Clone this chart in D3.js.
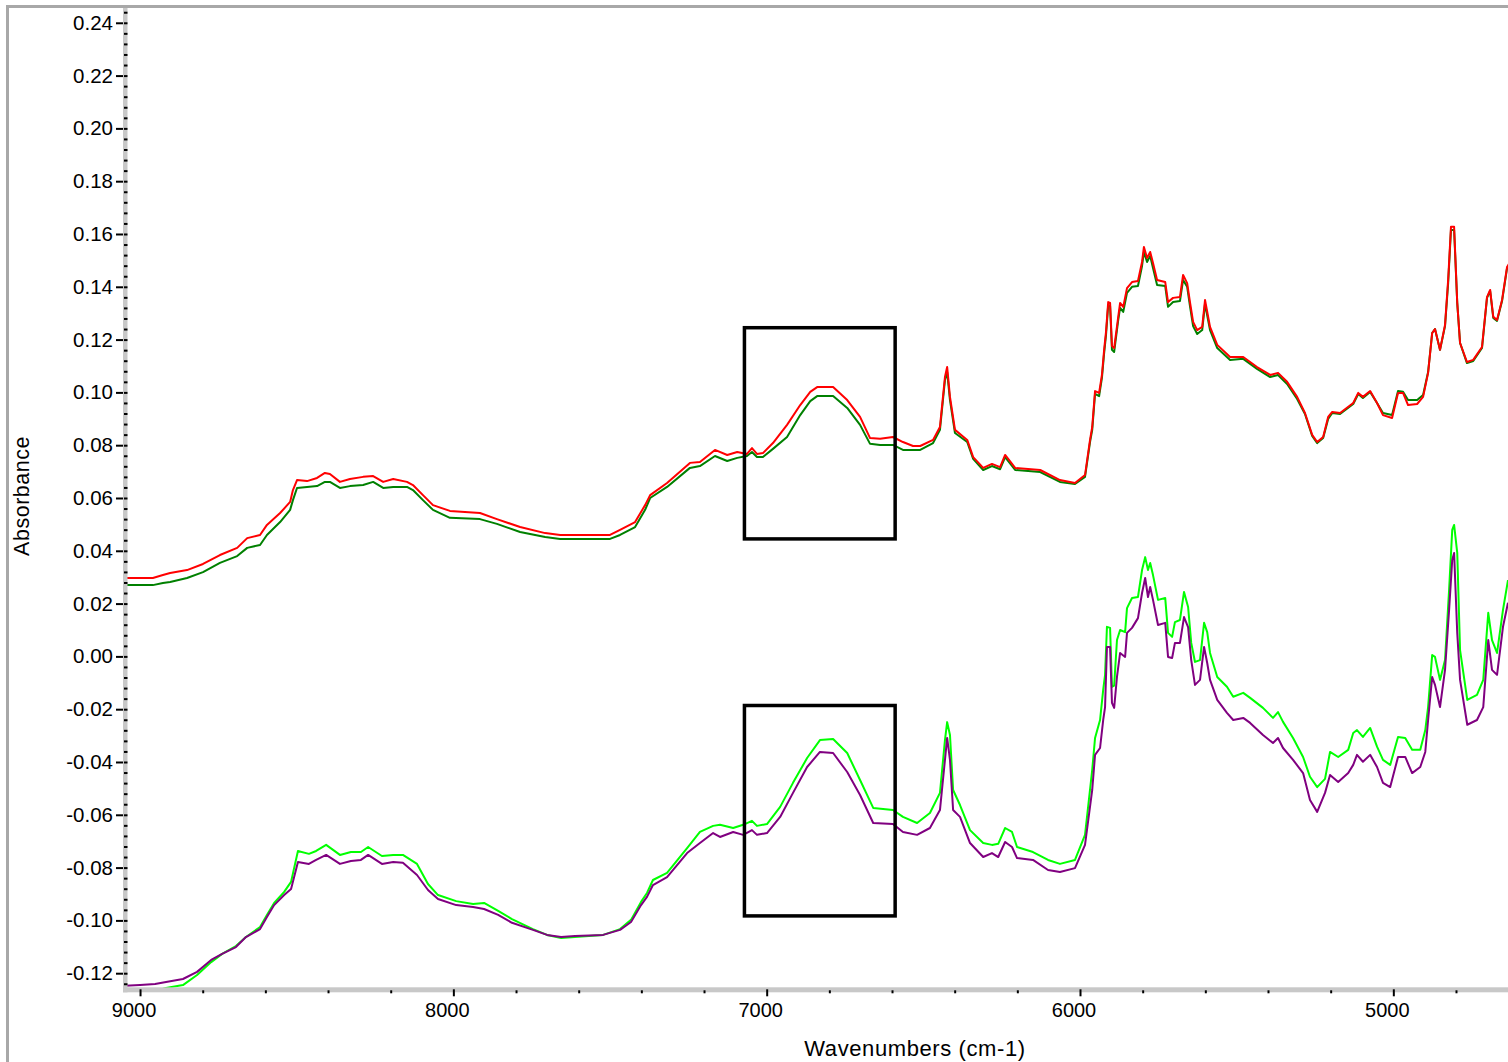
<!DOCTYPE html>
<html>
<head>
<meta charset="utf-8">
<script src="https://cdn.jsdelivr.net/npm/d3@7"></script>
<style>
  body { margin: 0; background: #fff; }
  svg { display: block; font-family: Arial, "Liberation Sans", sans-serif; }
</style>
</head>
<body>
<svg id="chart" width="1508" height="1062"></svg>
<script>
// wavenumber grid (cm-1) for the upper pair of spectra
const upperWn = [9048, 8959, 8927, 8904, 8850, 8799, 8745, 8690, 8658, 8617, 8595, 8553, 8521, 8512, 8499, 8467, 8435, 8410, 8394, 8362,
  8330, 8288, 8256, 8224, 8192, 8148, 8129, 8097, 8065, 8011, 7915, 7861, 7787, 7707, 7659, 7500, 7468, 7420, 7388, 7372,
  7318, 7245, 7213, 7165, 7126, 7094, 7063, 7047, 7031, 7012, 6980, 6935, 6893, 6861, 6839, 6788, 6743, 6702, 6670, 6638,
  6597, 6565, 6533, 6510, 6469, 6447, 6431, 6424, 6415, 6399, 6360, 6341, 6309, 6281, 6255, 6239, 6207, 6127, 6064, 6016,
  5984, 5968, 5961, 5952, 5939, 5930, 5923, 5917, 5910, 5904, 5898, 5891, 5878, 5872, 5862, 5850, 5834, 5815, 5802, 5796,
  5786, 5776, 5767, 5754, 5728, 5719, 5703, 5681, 5671, 5658, 5649, 5639, 5626, 5610, 5601, 5585, 5562, 5521, 5479, 5435,
  5393, 5368, 5339, 5307, 5282, 5259, 5243, 5224, 5208, 5195, 5170, 5128, 5112, 5097, 5074, 5052, 5033, 5004, 4985, 4969,
  4953, 4924, 4905, 4889, 4876, 4867, 4851, 4835, 4825, 4816, 4806, 4796, 4787, 4765, 4745, 4717, 4701, 4691, 4681, 4669,
  4653, 4637, 4627];

const redAbs = [0.0297, 0.0297, 0.0308, 0.0316, 0.0327, 0.0350, 0.0384, 0.0411, 0.0448, 0.0460, 0.0498, 0.0543, 0.0585, 0.0630, 0.0668, 0.0664, 0.0676, 0.0695, 0.0691, 0.0661,
  0.0672, 0.0680, 0.0683, 0.0661, 0.0672, 0.0661, 0.0649, 0.0611, 0.0573, 0.0551, 0.0543, 0.0520, 0.0490, 0.0467, 0.0460, 0.0460, 0.0479, 0.0509, 0.0573, 0.0611,
  0.0657, 0.0733, 0.0736, 0.0782, 0.0763, 0.0774, 0.0767, 0.0789, 0.0767, 0.0770, 0.0808, 0.0877, 0.0952, 0.1002, 0.1020, 0.1020, 0.0971, 0.0907, 0.0827, 0.0824,
  0.0831, 0.0812, 0.0797, 0.0797, 0.0820, 0.0869, 0.1058, 0.1096, 0.0983, 0.0858, 0.0820, 0.0755, 0.0714, 0.0729, 0.0717, 0.0763, 0.0714, 0.0706, 0.0668, 0.0657,
  0.0687, 0.0820, 0.0869, 0.1005, 0.0998, 0.1066, 0.1161, 0.1229, 0.1342, 0.1339, 0.1176, 0.1168, 0.1286, 0.1339, 0.1324, 0.1395, 0.1418, 0.1422, 0.1494, 0.1551,
  0.1509, 0.1532, 0.1490, 0.1426, 0.1418, 0.1342, 0.1358, 0.1361, 0.1445, 0.1414, 0.1342, 0.1267, 0.1236, 0.1248, 0.1350, 0.1248, 0.1180, 0.1134, 0.1134, 0.1096,
  0.1066, 0.1074, 0.1040, 0.0983, 0.0922, 0.0839, 0.0812, 0.0831, 0.0907, 0.0926, 0.0922, 0.0960, 0.0998, 0.0983, 0.1005, 0.0960, 0.0914, 0.0903, 0.0998, 0.0998,
  0.0952, 0.0956, 0.0983, 0.1074, 0.1225, 0.1240, 0.1161, 0.1255, 0.1426, 0.1627, 0.1627, 0.1339, 0.1187, 0.1115, 0.1123, 0.1172, 0.1361, 0.1388, 0.1286, 0.1274,
  0.1350, 0.1475, 0.1494];

const darkGreenAbs = [0.0270, 0.0270, 0.0278, 0.0282, 0.0297, 0.0319, 0.0354, 0.0380, 0.0411, 0.0422, 0.0460, 0.0509, 0.0555, 0.0592, 0.0638, 0.0642, 0.0645, 0.0661, 0.0661, 0.0638,
  0.0645, 0.0649, 0.0661, 0.0638, 0.0642, 0.0642, 0.0630, 0.0592, 0.0555, 0.0525, 0.0520, 0.0502, 0.0471, 0.0452, 0.0445, 0.0445, 0.0460, 0.0490, 0.0555, 0.0600,
  0.0642, 0.0714, 0.0721, 0.0759, 0.0740, 0.0752, 0.0759, 0.0774, 0.0755, 0.0755, 0.0786, 0.0831, 0.0914, 0.0967, 0.0986, 0.0986, 0.0941, 0.0877, 0.0805, 0.0801,
  0.0801, 0.0782, 0.0782, 0.0782, 0.0808, 0.0858, 0.1047, 0.1077, 0.0971, 0.0846, 0.0812, 0.0748, 0.0706, 0.0721, 0.0709, 0.0755, 0.0706, 0.0698, 0.0661, 0.0653,
  0.0680, 0.0812, 0.0858, 0.0994, 0.0986, 0.1055, 0.1149, 0.1217, 0.1331, 0.1327, 0.1161, 0.1153, 0.1274, 0.1320, 0.1305, 0.1377, 0.1400, 0.1403, 0.1479, 0.1532,
  0.1494, 0.1517, 0.1471, 0.1407, 0.1403, 0.1324, 0.1342, 0.1346, 0.1426, 0.1400, 0.1327, 0.1251, 0.1221, 0.1236, 0.1335, 0.1236, 0.1168, 0.1123, 0.1127, 0.1089,
  0.1058, 0.1066, 0.1032, 0.0975, 0.0918, 0.0835, 0.0808, 0.0827, 0.0899, 0.0922, 0.0918, 0.0956, 0.0994, 0.0979, 0.1002, 0.0960, 0.0922, 0.0914, 0.1005, 0.1002,
  0.0971, 0.0971, 0.0990, 0.1077, 0.1225, 0.1240, 0.1161, 0.1251, 0.1414, 0.1615, 0.1615, 0.1339, 0.1187, 0.1111, 0.1119, 0.1168, 0.1358, 0.1384, 0.1282, 0.1271,
  0.1346, 0.1471, 0.1490];

// wavenumber grid (cm-1) for the lower pair of spectra
const lowerWn = [9048, 9000, 8952, 8917, 8863, 8818, 8773, 8738, 8694, 8662, 8617, 8595, 8572, 8540, 8518, 8496, 8461, 8438, 8406, 8362,
  8327, 8295, 8272, 8228, 8192, 8161, 8116, 8081, 8049, 7991, 7937, 7902, 7857, 7813, 7746, 7701, 7656, 7612, 7522, 7468,
  7433, 7401, 7382, 7363, 7318, 7254, 7213, 7171, 7149, 7107, 7075, 7047, 7031, 6999, 6957, 6916, 6871, 6830, 6788, 6743,
  6702, 6660, 6597, 6565, 6520, 6479, 6447, 6431, 6424, 6415, 6405, 6383, 6351, 6309, 6281, 6261, 6239, 6217, 6201, 6150,
  6102, 6064, 6016, 5984, 5961, 5952, 5936, 5926, 5920, 5914, 5904, 5898, 5891, 5882, 5872, 5856, 5850, 5834, 5815, 5802,
  5792, 5783, 5776, 5767, 5751, 5728, 5719, 5706, 5697, 5681, 5668, 5655, 5645, 5633, 5617, 5604, 5594, 5585, 5562, 5531,
  5511, 5479, 5457, 5416, 5384, 5368, 5352, 5320, 5288, 5266, 5243, 5218, 5202, 5176, 5144, 5128, 5116, 5097, 5074, 5052,
  5033, 5010, 4985, 4962, 4940, 4914, 4898, 4889, 4876, 4867, 4851, 4835, 4822, 4812, 4806, 4796, 4787, 4764, 4733, 4713,
  4697, 4685, 4669, 4650, 4634];

const limeAbs = [-0.1275, -0.1271, -0.1267, -0.1256, -0.1245, -0.1207, -0.1158, -0.1127, -0.1097, -0.1063, -0.1025, -0.0980, -0.0934, -0.0892, -0.0854, -0.0737, -0.0748, -0.0737, -0.0714, -0.0752,
  -0.0741, -0.0741, -0.0722, -0.0756, -0.0752, -0.0752, -0.0786, -0.0862, -0.0904, -0.0927, -0.0938, -0.0934, -0.0964, -0.0995, -0.1033, -0.1055, -0.1067, -0.1063, -0.1055, -0.1033,
  -0.0998, -0.0930, -0.0896, -0.0847, -0.0820, -0.0726, -0.0665, -0.0642, -0.0638, -0.0650, -0.0638, -0.0623, -0.0642, -0.0635, -0.0570, -0.0479, -0.0385, -0.0317, -0.0313, -0.0366,
  -0.0468, -0.0574, -0.0582, -0.0608, -0.0631, -0.0593, -0.0517, -0.0317, -0.0249, -0.0298, -0.0506, -0.0563, -0.0658, -0.0707, -0.0714, -0.0710, -0.0650, -0.0665, -0.0722, -0.0741,
  -0.0771, -0.0786, -0.0771, -0.0676, -0.0430, -0.0309, -0.0241, -0.0127, -0.0070, 0.0112, 0.0108, -0.0115, -0.0111, 0.0062, 0.0100, 0.0092, 0.0183, 0.0221, 0.0225, 0.0327,
  0.0376, 0.0327, 0.0354, 0.0308, 0.0214, 0.0221, 0.0089, 0.0074, 0.0130, 0.0138, 0.0244, 0.0187, 0.0051, -0.0021, -0.0014, 0.0127, 0.0092, 0.0013, -0.0078, -0.0115,
  -0.0153, -0.0138, -0.0157, -0.0195, -0.0233, -0.0211, -0.0248, -0.0309, -0.0381, -0.0456, -0.0495, -0.0464, -0.0362, -0.0381, -0.0354, -0.0290, -0.0279, -0.0305, -0.0271, -0.0342,
  -0.0392, -0.0411, -0.0305, -0.0309, -0.0354, -0.0354, -0.0279, -0.0192, 0.0005, -0.0002, -0.0089, -0.0014, 0.0252, 0.0479, 0.0498, 0.0392, 0.0024, -0.0165, -0.0146, -0.0089,
  0.0165, 0.0062, 0.0013, 0.0176, 0.0289];

const purpleAbs = [-0.1248, -0.1245, -0.1241, -0.1233, -0.1222, -0.1195, -0.1150, -0.1127, -0.1101, -0.1063, -0.1033, -0.0987, -0.0942, -0.0904, -0.0881, -0.0779, -0.0786, -0.0771, -0.0752, -0.0786,
  -0.0775, -0.0771, -0.0752, -0.0786, -0.0779, -0.0782, -0.0828, -0.0885, -0.0919, -0.0942, -0.0949, -0.0957, -0.0979, -0.1009, -0.1036, -0.1055, -0.1063, -0.1059, -0.1055, -0.1036,
  -0.1006, -0.0942, -0.0911, -0.0866, -0.0836, -0.0745, -0.0707, -0.0669, -0.0684, -0.0665, -0.0676, -0.0658, -0.0676, -0.0669, -0.0608, -0.0517, -0.0419, -0.0362, -0.0366, -0.0438,
  -0.0525, -0.0631, -0.0635, -0.0665, -0.0676, -0.0650, -0.0582, -0.0392, -0.0309, -0.0392, -0.0582, -0.0608, -0.0707, -0.0760, -0.0745, -0.0760, -0.0703, -0.0722, -0.0764, -0.0771,
  -0.0809, -0.0817, -0.0802, -0.0714, -0.0506, -0.0373, -0.0347, -0.0241, -0.0192, 0.0036, 0.0036, -0.0176, -0.0195, -0.0078, 0.0013, -0.0002, 0.0089, 0.0108, 0.0145, 0.0240,
  0.0297, 0.0225, 0.0263, 0.0214, 0.0119, 0.0127, -0.0002, -0.0006, 0.0051, 0.0051, 0.0149, 0.0111, -0.0014, -0.0108, -0.0089, 0.0036, -0.0025, -0.0089, -0.0165, -0.0214,
  -0.0241, -0.0233, -0.0252, -0.0298, -0.0328, -0.0309, -0.0347, -0.0392, -0.0442, -0.0544, -0.0589, -0.0517, -0.0449, -0.0476, -0.0442, -0.0411, -0.0373, -0.0399, -0.0373, -0.0419,
  -0.0479, -0.0495, -0.0381, -0.0381, -0.0442, -0.0419, -0.0362, -0.0241, -0.0078, -0.0108, -0.0192, -0.0051, 0.0176, 0.0365, 0.0392, 0.0089, -0.0089, -0.0259, -0.0241, -0.0192,
  0.0062, -0.0051, -0.0070, 0.0112, 0.0203];

// the two marked regions: [wn from, wn to, abs top, abs bottom]
const boxes = [
  [7071, 6590, 0.1245, 0.0445],
  [7071, 6590, -0.0186, -0.0983],
];

const xMajorTicks = [9000, 8000, 7000, 6000, 5000];
const xMinorTicks = [8800, 8600, 8400, 8200, 7800, 7600, 7400, 7200, 6800, 6600, 6400, 6200, 5800, 5600, 5400, 5200, 4800];
const yMajorTicks = [-0.12, -0.10, -0.08, -0.06, -0.04, -0.02, 0.00, 0.02, 0.04, 0.06, 0.08, 0.10, 0.12, 0.14, 0.16, 0.18, 0.20, 0.22, 0.24];

const W = 1508, H = 1062;
const margin = { top: 8, right: 0, bottom: 72.7, left: 125 };
const plotW = W - margin.left - margin.right;
const plotH = H - margin.top - margin.bottom;

const svg = d3.select("#chart");

const x = d3.scaleLinear().domain([9048, 4634]).range([margin.left, margin.left + plotW]);
const y = d3.scaleLinear().domain([-0.1261, 0.2456]).range([margin.top + plotH, margin.top]);

// window frame
svg.append("line").attr("x1", 7).attr("x2", W).attr("y1", 6.5).attr("y2", 6.5)
  .attr("stroke", "#a8a8a8").attr("stroke-width", 3);
svg.append("line").attr("x1", 7.5).attr("x2", 7.5).attr("y1", 5).attr("y2", H)
  .attr("stroke", "#a8a8a8").attr("stroke-width", 3);

svg.append("defs").append("clipPath").attr("id", "plotClip")
  .append("rect").attr("x", margin.left).attr("y", margin.top)
  .attr("width", plotW).attr("height", plotH);

// spectra
const line = d3.line()
  .x((d) => x(d[0]))
  .y((d) => y(d[1]));

const series = [
  { wn: upperWn, abs: darkGreenAbs, color: "#008000" },
  { wn: upperWn, abs: redAbs, color: "#ff0000" },
  { wn: lowerWn, abs: limeAbs, color: "#00ff00" },
  { wn: lowerWn, abs: purpleAbs, color: "#800080" },
];

const gLines = svg.append("g").attr("clip-path", "url(#plotClip)");
series.forEach((s) => {
  gLines.append("path")
    .datum(s.wn.map((w, i) => [w, s.abs[i]]))
    .attr("fill", "none")
    .attr("stroke", s.color)
    .attr("stroke-width", 2)
    .attr("stroke-linejoin", "round")
    .attr("d", line);
});

// boxes
svg.append("g").selectAll("rect")
  .data(boxes)
  .join("rect")
  .attr("x", (d) => x(d[0]))
  .attr("y", (d) => y(d[2]))
  .attr("width", (d) => x(d[1]) - x(d[0]))
  .attr("height", (d) => y(d[3]) - y(d[2]))
  .attr("fill", "none")
  .attr("stroke", "#000")
  .attr("stroke-width", 3.5);

// axis bars
svg.append("rect").attr("x", margin.left - 2).attr("y", margin.top)
  .attr("width", 4.5).attr("height", plotH + 3).attr("fill", "#c8c8c8");
svg.append("rect").attr("x", margin.left - 2).attr("y", margin.top + plotH - 2)
  .attr("width", plotW + 2).attr("height", 5).attr("fill", "#c8c8c8");

// y axis
const yMinor = d3.range(-124, 245, 4).map((v) => v / 1000);
const yMinorAxis = svg.append("g")
  .attr("transform", `translate(${margin.left - 1},0)`)
  .call(d3.axisRight(y).tickValues(yMinor).tickSize(3.5).tickFormat(""));

const yAxis = svg.append("g")
  .attr("transform", `translate(${margin.left - 2},0)`)
  .call(d3.axisLeft(y).tickValues(yMajorTicks).tickSize(7).tickPadding(3)
    .tickFormat((d) => d.toFixed(2)));

// x axis
const xMinorAxis = svg.append("g")
  .attr("transform", `translate(0,${margin.top + plotH + 1})`)
  .call(d3.axisBottom(x).tickValues(xMinorTicks).tickSize(3).tickFormat(""));

const xAxis = svg.append("g")
  .attr("transform", `translate(0,${margin.top + plotH})`)
  .call(d3.axisBottom(x).tickValues(xMajorTicks).tickSize(7).tickPadding(7)
    .tickFormat(d3.format("d")));

[yMinorAxis, yAxis, xMinorAxis, xAxis].forEach((g) => {
  g.select(".domain").remove();
  g.selectAll(".tick line").attr("stroke", "#000").attr("stroke-width", 2);
  g.selectAll(".tick text").attr("fill", "#000").style("font-size", "20px")
    .style("font-family", "Arial, 'Liberation Sans', sans-serif");
});
yAxis.selectAll(".tick text").style("font-size", "20.5px");
xAxis.selectAll(".tick text").attr("dx", -6.5);

// axis titles
svg.append("text")
  .attr("transform", "translate(22,496) rotate(-90)")
  .attr("text-anchor", "middle")
  .attr("dominant-baseline", "central")
  .style("font-size", "21.5px")
  .style("letter-spacing", "0.5px")
  .text("Absorbance");

svg.append("text")
  .attr("x", 915)
  .attr("y", 1048)
  .attr("text-anchor", "middle")
  .attr("dominant-baseline", "central")
  .style("font-size", "22px")
  .style("letter-spacing", "0.6px")
  .text("Wavenumbers (cm-1)");
</script>
</body>
</html>
